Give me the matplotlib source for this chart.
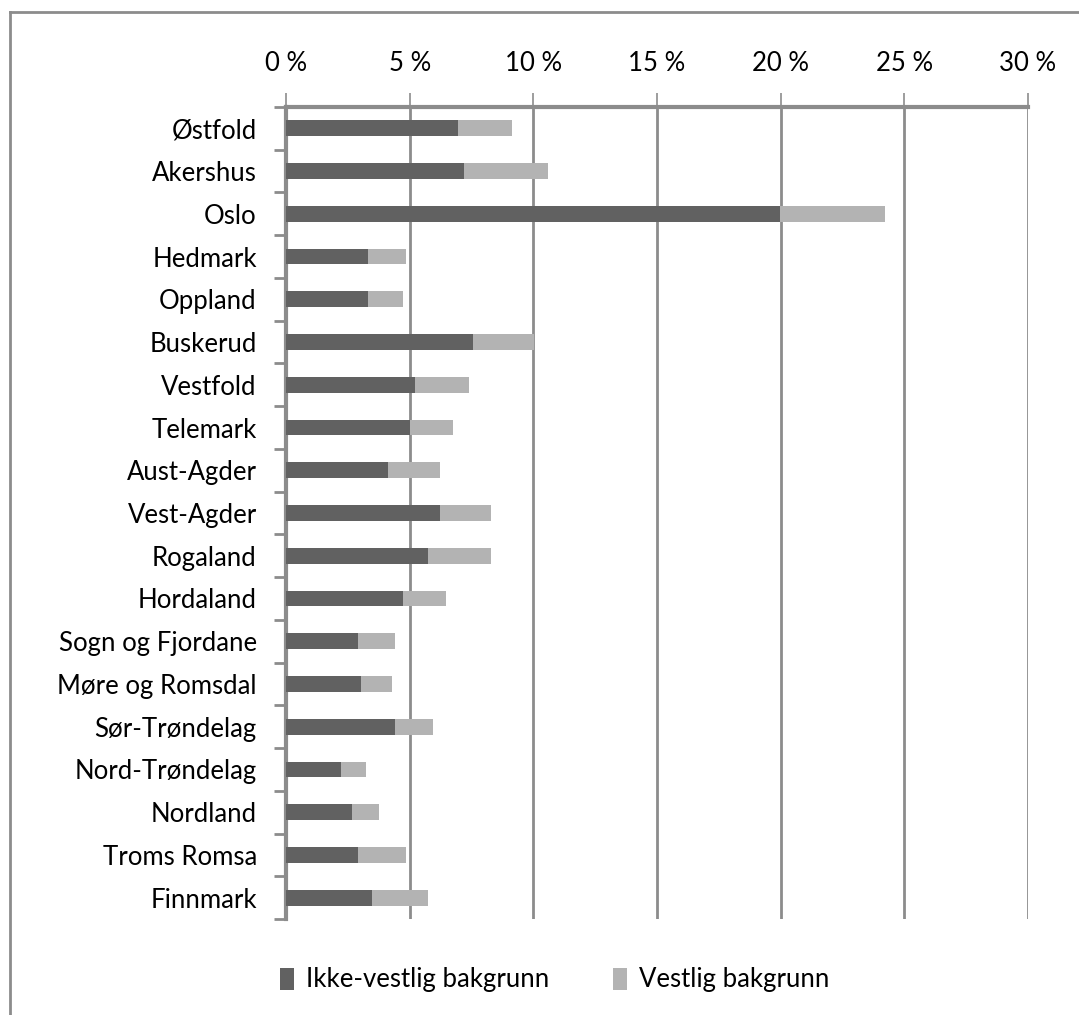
import numpy as np
import matplotlib.pyplot as plt
from matplotlib.lines import Line2D
from matplotlib.ticker import FuncFormatter

plt.rcParams['font.family'] = ['Lato', 'DejaVu Sans']

# Share of pupils with immigrant background per county (%)
fylker = ["Østfold", "Akershus", "Oslo", "Hedmark", "Oppland", "Buskerud",
          "Vestfold", "Telemark", "Aust-Agder", "Vest-Agder", "Rogaland",
          "Hordaland", "Sogn og Fjordane", "Møre og Romsdal", "Sør-Trøndelag",
          "Nord-Trøndelag", "Nordland", "Troms Romsa", "Finnmark"]
ikke_vestlig = [6.94, 7.21, 19.98, 3.30, 3.30, 7.58, 5.22, 5.02, 4.13, 6.23,
                5.74, 4.75, 2.93, 3.03, 4.39, 2.21, 2.66, 2.93, 3.48]
totalt = [9.12, 10.59, 24.23, 4.84, 4.75, 10.04, 7.40, 6.75, 6.22, 8.30,
          8.30, 6.48, 4.39, 4.30, 5.95, 3.22, 3.75, 4.84, 5.76]
vestlig = [t - i for t, i in zip(totalt, ikke_vestlig)]

dark = "#616161"
light = "#b3b3b3"
grey = "#8c8c8c"
fs = 18.5

fig = plt.figure(figsize=(10.79, 10.15), dpi=100)
W, H = 1079, 1015
ax = fig.add_axes([286 / W, 1 - 919 / H, (1028 - 286) / W, (919 - 107) / H])

y = np.arange(len(fylker))
ax.barh(y, ikke_vestlig, height=0.37, color=dark, label="Ikke-vestlig bakgrunn", zorder=3)
ax.barh(y, vestlig, left=ikke_vestlig, height=0.37, color=light,
        label="Vestlig bakgrunn", zorder=3)

ax.set_xlim(0, 30)
ax.set_ylim(len(fylker) - 0.5, -0.5)
ax.set_xticks(np.arange(0, 31, 5))
ax.xaxis.set_major_formatter(FuncFormatter(lambda v, p: f"{int(v)} %"))
ax.xaxis.tick_top()
ax.tick_params(axis="x", direction="out", length=10, width=1.2, color=grey,
               pad=12, labelsize=fs)
ax.grid(axis="x", color=grey, linewidth=2, zorder=0)

# category labels at bar centres, tick marks at category boundaries
ax.set_yticks(y)
ax.set_yticklabels(fylker)
ax.set_yticks(np.arange(-0.5, len(fylker) + 0.5, 1), minor=True)
ax.tick_params(axis="y", which="major", length=0, pad=21, labelsize=fs)
ax.tick_params(axis="y", which="minor", length=9, width=2, color=grey)

for side in ["right", "bottom"]:
    ax.spines[side].set_visible(False)
ax.spines["top"].set_color(grey)
ax.spines["top"].set_linewidth(3)
ax.spines["left"].set_color(grey)
ax.spines["left"].set_linewidth(3)

handles, labels = ax.get_legend_handles_labels()
fig.legend(handles, labels, loc="center", bbox_to_anchor=(0.514, 1 - 980 / H),
           ncol=2, frameon=False, fontsize=fs, handlelength=0.55,
           handleheight=0.95, handletextpad=0.45, columnspacing=2.5)

# chart frame
fig.add_artist(Line2D([10 / W, 1], [1 - 12 / H, 1 - 12 / H], color=grey, linewidth=2))
fig.add_artist(Line2D([10 / W, 10 / W], [0, 1 - 12 / H], color=grey, linewidth=2))

fig.savefig("out.png", dpi=100)
